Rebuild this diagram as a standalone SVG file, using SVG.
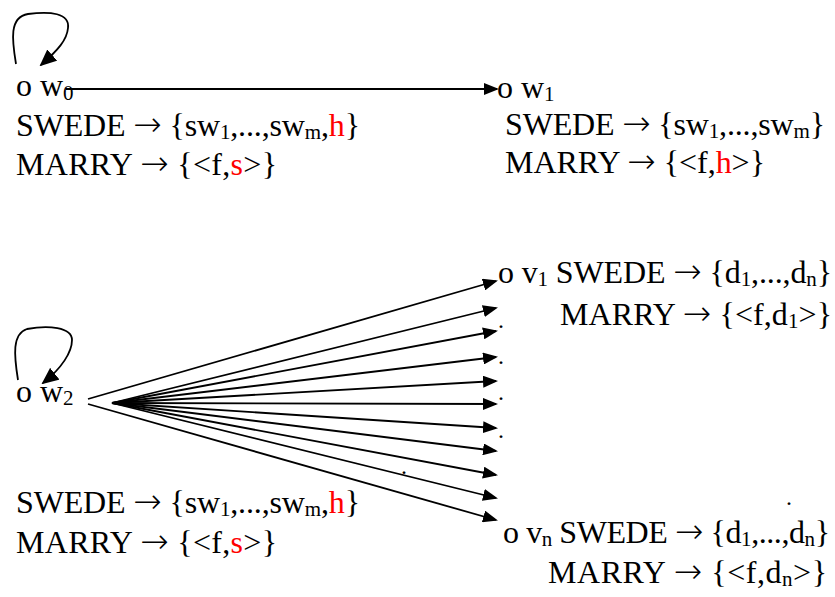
<svg xmlns="http://www.w3.org/2000/svg" width="835" height="597" viewBox="0 0 835 597">
<defs>
<style>
text{font-family:"Liberation Serif","Times New Roman",serif;font-size:32px;fill:#000}
.sub{font-size:21px}
.red{fill:#FF0000}
.arr{font-family:"DejaVu Sans",sans-serif;font-size:34px;font-weight:200}
.dot{font-size:24px}
.edge{stroke:#000;stroke-width:1.8;fill:none}
</style>
<marker id="ah" viewBox="0 0 15 12" refX="13" refY="6" markerWidth="15" markerHeight="12" markerUnits="userSpaceOnUse" orient="auto">
<path d="M0,0 L15,6 L0,12 z" fill="#000"/>
</marker>
<marker id="ahl" viewBox="0 0 17 15" refX="15" refY="7.5" markerWidth="17" markerHeight="15" markerUnits="userSpaceOnUse" orient="auto">
<path d="M0,0 L17,7.5 L0,15 z" fill="#000"/>
</marker>
</defs>
<rect width="835" height="597" fill="#fff"/>

<g id="connectors">
<path class="edge" d="M16,64 C12,40 9,17 28,14 C50,11 70,13 68,28 C67,40 58,50 41,65" marker-end="url(#ahl)"/>
<line class="edge" x1="66" y1="89" x2="497" y2="89" marker-end="url(#ah)"/>
<path class="edge" d="M18,380 C14,355 12,334 27,329 C48,325 72,327 72,340 C72,352 62,368 43,383" marker-end="url(#ahl)"/>
<line class="edge" x1="88" y1="399" x2="496" y2="281" marker-end="url(#ah)"/>
<line class="edge" x1="112" y1="403" x2="496" y2="308" marker-end="url(#ah)"/>
<line class="edge" x1="112" y1="403" x2="496" y2="331" marker-end="url(#ah)"/>
<line class="edge" x1="112" y1="403" x2="496" y2="357" marker-end="url(#ah)"/>
<line class="edge" x1="112" y1="403" x2="496" y2="381" marker-end="url(#ah)"/>
<line class="edge" x1="112" y1="403" x2="496" y2="404" marker-end="url(#ah)"/>
<line class="edge" x1="112" y1="403" x2="496" y2="428" marker-end="url(#ah)"/>
<line class="edge" x1="112" y1="403" x2="496" y2="451" marker-end="url(#ah)"/>
<line class="edge" x1="112" y1="403" x2="496" y2="475" marker-end="url(#ah)"/>
<line class="edge" x1="112" y1="403" x2="496" y2="498" marker-end="url(#ah)"/>
<line class="edge" x1="88" y1="404" x2="496" y2="520" marker-end="url(#ah)"/>
</g>

<g id="w0">
<text x="16" y="96">o w<tspan class="sub" dy="4">0</tspan></text>
<text x="16" y="136" textLength="344" lengthAdjust="spacing">SWEDE <tspan class="arr">→</tspan> {sw<tspan class="sub" dy="3">1</tspan><tspan dy="-3">,...,sw</tspan><tspan class="sub" dy="3">m</tspan><tspan dy="-3">,</tspan><tspan class="red">h</tspan>}</text>
<text x="16" y="175" textLength="261" lengthAdjust="spacing">MARRY <tspan class="arr">→</tspan> {&lt;f,<tspan class="red">s</tspan>&gt;}</text>
</g>

<g id="w1">
<text x="497" y="98">o w<tspan class="sub" dy="3">1</tspan></text>
<text x="505" y="135" textLength="320" lengthAdjust="spacing">SWEDE <tspan class="arr">→</tspan> {sw<tspan class="sub" dy="3">1</tspan><tspan dy="-3">,...,sw</tspan><tspan class="sub" dy="3">m</tspan><tspan dy="-3">}</tspan></text>
<text x="505" y="173" textLength="260" lengthAdjust="spacing">MARRY <tspan class="arr">→</tspan> {&lt;f,<tspan class="red">h</tspan>&gt;}</text>
</g>

<g id="w2">
<text x="16" y="402">o w<tspan class="sub" dy="3">2</tspan></text>
<text x="16" y="513" textLength="344" lengthAdjust="spacing">SWEDE <tspan class="arr">→</tspan> {sw<tspan class="sub" dy="3">1</tspan><tspan dy="-3">,...,sw</tspan><tspan class="sub" dy="3">m</tspan><tspan dy="-3">,</tspan><tspan class="red">h</tspan>}</text>
<text x="16" y="553" textLength="261" lengthAdjust="spacing">MARRY <tspan class="arr">→</tspan> {&lt;f,<tspan class="red">s</tspan>&gt;}</text>
</g>

<g id="v1">
<text x="498" y="283" textLength="334" lengthAdjust="spacing">o v<tspan class="sub" dy="3">1</tspan><tspan dy="-3"> SWEDE </tspan><tspan class="arr">→</tspan> {d<tspan class="sub" dy="3">1</tspan><tspan dy="-3">,...,d</tspan><tspan class="sub" dy="3">n</tspan><tspan dy="-3">}</tspan></text>
<text x="560" y="325" textLength="272" lengthAdjust="spacing">MARRY <tspan class="arr">→</tspan> {&lt;f,d<tspan class="sub" dy="3">1</tspan><tspan dy="-3">&gt;}</tspan></text>
</g>

<g id="dots">
<text class="dot" x="498" y="328">.</text>
<text class="dot" x="498" y="364">.</text>
<text class="dot" x="498" y="400">.</text>
<text class="dot" x="498" y="438">.</text>
<text class="dot" x="401" y="474">.</text>
<text class="dot" x="786" y="505">.</text>
</g>

<g id="vn">
<text x="503" y="543" textLength="327" lengthAdjust="spacing">o v<tspan class="sub" dy="3">n</tspan><tspan dy="-3"> SWEDE </tspan><tspan class="arr">→</tspan> {d<tspan class="sub" dy="3">1</tspan><tspan dy="-3">,...,d</tspan><tspan class="sub" dy="3">n</tspan><tspan dy="-3">}</tspan></text>
<text x="548" y="583" textLength="279" lengthAdjust="spacing">MARRY <tspan class="arr">→</tspan> {&lt;f,d<tspan class="sub" dy="3">n</tspan><tspan dy="-3">&gt;}</tspan></text>
</g>
</svg>
